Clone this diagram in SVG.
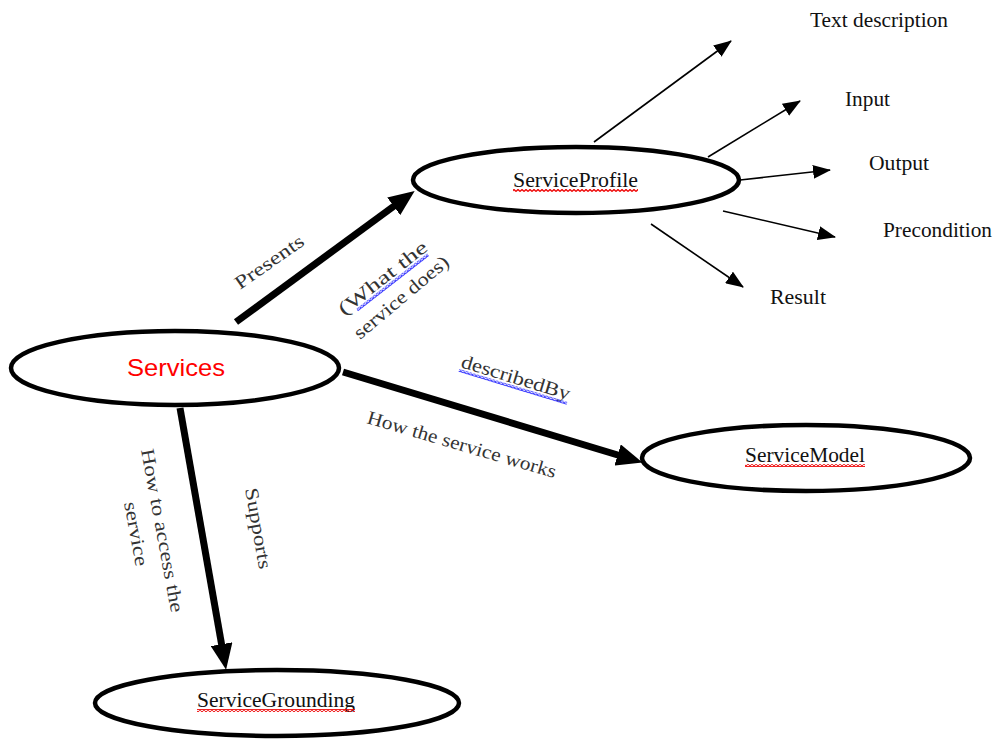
<svg xmlns="http://www.w3.org/2000/svg" width="997" height="742" viewBox="0 0 997 742">
<style>
.node{fill:#fff;stroke:#000;stroke-width:4.5}
.lbl{font-family:"Liberation Serif","Times New Roman",serif;font-size:20px;fill:#111}
.edge-lbl{font-family:"Liberation Serif","Times New Roman",serif;font-size:19px;fill:#333}
.thick{stroke:#000;stroke-width:7;fill:none}
.thin{stroke:#000;stroke-width:1.6;fill:none}
</style>
<defs>
<marker id="bigHead" viewBox="0 0 26 22" refX="14" refY="11" markerWidth="26" markerHeight="22" markerUnits="userSpaceOnUse" orient="auto">
<path d="M0,0 L26,11 L0,22 z" fill="#000"/>
</marker>
<marker id="smallHead" viewBox="0 0 18 14" refX="17" refY="7" markerWidth="18" markerHeight="14" markerUnits="userSpaceOnUse" orient="auto">
<path d="M0,0 L18,7 L0,14 z" fill="#000"/>
</marker>
<pattern id="wavyRed" width="4" height="3" patternUnits="userSpaceOnUse">
<path d="M0,2.5 L2,0.5 L4,2.5" stroke="#e00" stroke-width="1.3" fill="none"/>
</pattern>
<pattern id="wavyBlue" width="4" height="3" patternUnits="userSpaceOnUse">
<path d="M0,2.5 L2,0.5 L4,2.5" stroke="#22f" stroke-width="1.3" fill="none"/>
</pattern>
</defs>

<g id="connectors">
<line class="thick" x1="236" y1="322" x2="405" y2="198" marker-end="url(#bigHead)"/>
<line class="thick" x1="343" y1="372" x2="631" y2="459" marker-end="url(#bigHead)"/>
<line class="thick" x1="180" y1="408" x2="224" y2="658" marker-end="url(#bigHead)"/>
<line class="thin" x1="594" y1="142" x2="731" y2="41" marker-end="url(#smallHead)"/>
<line class="thin" x1="708" y1="157" x2="800" y2="101" marker-end="url(#smallHead)"/>
<line class="thin" x1="740" y1="180" x2="830" y2="170" marker-end="url(#smallHead)"/>
<line class="thin" x1="723" y1="211" x2="835" y2="237" marker-end="url(#smallHead)"/>
<line class="thin" x1="651" y1="224" x2="743" y2="287" marker-end="url(#smallHead)"/>

<text class="edge-lbl" transform="translate(240,290) rotate(-35)" textLength="80" lengthAdjust="spacingAndGlyphs">Presents</text>
<g transform="translate(344,316) rotate(-38)">
<text class="edge-lbl" textLength="108" lengthAdjust="spacingAndGlyphs">(What  the</text>
<rect x="14" y="2" width="90" height="3" fill="url(#wavyBlue)"/>
</g>
<text class="edge-lbl" transform="translate(360,340) rotate(-40)" textLength="118" lengthAdjust="spacingAndGlyphs">service does)</text>
<g transform="translate(460,367) rotate(17)">
<text class="edge-lbl" textLength="113" lengthAdjust="spacingAndGlyphs">describedBy</text>
<rect x="0" y="2" width="113" height="3" fill="url(#wavyBlue)"/>
</g>
<text class="edge-lbl" transform="translate(366,423) rotate(16.3)" textLength="196" lengthAdjust="spacingAndGlyphs">How the service works</text>
<text class="edge-lbl" transform="translate(141,450) rotate(79.5)" textLength="166" lengthAdjust="spacingAndGlyphs">How to access the</text>
<text class="edge-lbl" transform="translate(124,503) rotate(79.5)" textLength="65" lengthAdjust="spacingAndGlyphs">service</text>
<text class="edge-lbl" transform="translate(245,489) rotate(80)" textLength="82" lengthAdjust="spacingAndGlyphs">Supports</text>

<text class="lbl" x="810" y="27" textLength="138" lengthAdjust="spacingAndGlyphs">Text description</text>
<text class="lbl" x="845" y="106" textLength="45" lengthAdjust="spacingAndGlyphs">Input</text>
<text class="lbl" x="869" y="170" textLength="60" lengthAdjust="spacingAndGlyphs">Output</text>
<text class="lbl" x="883" y="237" textLength="109" lengthAdjust="spacingAndGlyphs">Precondition</text>
<text class="lbl" x="770" y="304" textLength="56" lengthAdjust="spacingAndGlyphs">Result</text>
</g>

<g id="services">
<ellipse class="node" cx="175" cy="368" rx="164" ry="37"/>
<text x="176" y="376" text-anchor="middle" font-family="'Liberation Sans',Arial,sans-serif" font-size="24" fill="#f00" textLength="98" lengthAdjust="spacingAndGlyphs">Services</text>
</g>

<g id="serviceProfile">
<ellipse class="node" cx="576" cy="180" rx="163" ry="33"/>
<text class="lbl" x="513" y="187" textLength="125" lengthAdjust="spacingAndGlyphs">ServiceProfile</text>
<rect x="513" y="189" width="125" height="3" fill="url(#wavyRed)"/>
</g>

<g id="serviceModel">
<ellipse class="node" cx="806" cy="458" rx="164" ry="33"/>
<text class="lbl" x="745" y="462" textLength="120" lengthAdjust="spacingAndGlyphs">ServiceModel</text>
<rect x="745" y="464" width="120" height="3" fill="url(#wavyRed)"/>
</g>

<g id="serviceGrounding">
<ellipse class="node" cx="277" cy="703" rx="182" ry="33"/>
<text class="lbl" x="197" y="707" textLength="158" lengthAdjust="spacingAndGlyphs">ServiceGrounding</text>
<rect x="197" y="709" width="158" height="3" fill="url(#wavyRed)"/>
</g>
</svg>
